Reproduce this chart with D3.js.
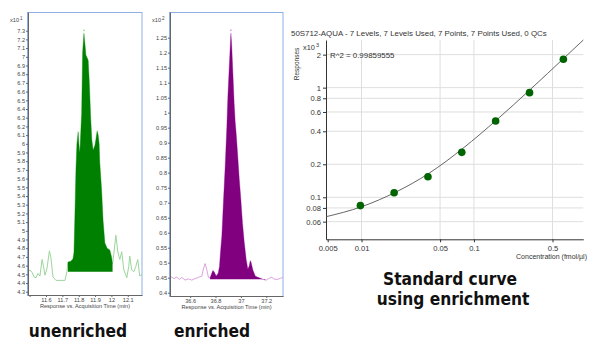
<!DOCTYPE html>
<html>
<head>
<meta charset="utf-8">
<script src="https://cdn.jsdelivr.net/npm/d3@7"></script>
<style>
body { margin: 0; background: #fff; }
svg { display: block; font-family: "Liberation Sans", Arial, sans-serif; }
.big { font-family: "Liberation Sans Narrow", "DejaVu Sans Condensed", sans-serif; font-weight: bold; font-stretch: condensed; fill: #111; }
</style>
</head>
<body>
<svg id="chart" width="589" height="341"></svg>
<script>
// unenriched chromatogram (x10^1), time in min
const unenrTime = [11.490, 11.502, 11.515, 11.527, 11.539, 11.551, 11.563, 11.576, 11.585, 11.594, 11.606, 11.621, 11.630, 11.643, 11.661, 11.685, 11.716, 11.728,
    11.734, 11.752, 11.765, 11.771, 11.777, 11.783, 11.789, 11.797, 11.801, 11.807, 11.818, 11.824, 11.832, 11.838, 11.844, 11.858, 11.865, 11.873, 11.880, 11.888,
    11.899, 11.905, 11.913, 11.919, 11.925, 11.929, 11.940, 11.949, 11.960, 11.974, 11.990, 12.001, 12.007,
    12.015, 12.027, 12.039, 12.051, 12.063, 12.076, 12.094, 12.106, 12.112, 12.124, 12.137, 12.149, 12.161, 12.173, 12.187];
const unenrResp = [4.53, 4.55, 4.52, 4.47, 4.46, 4.51, 4.48, 4.67, 4.59, 4.49, 4.57, 4.77, 4.69, 4.47, 4.43, 4.43, 4.43, 4.53,
    4.64, 4.65, 4.68, 4.75, 5.2, 5.7, 6.0, 6.14, 6.0, 5.90, 6.35, 7.05, 7.27, 7.15, 7.02, 6.96, 6.7, 6.31, 6.05, 5.93,
    5.98, 6.05, 6.15, 6.1, 6.0, 5.78, 5.47, 5.12, 4.86, 4.80, 4.78, 4.70, 4.62,
    4.74, 4.95, 4.76, 4.67, 4.76, 4.55, 4.46, 4.59, 4.71, 4.55, 4.53, 4.59, 4.67, 4.48, 4.50];
const unenrPeak = [18, 50];      // first / last index of the integrated peak
const unenrBase = 4.53;
const unenrYTicks = d3.range(43, 74).map(v => v / 10);
const unenrXTicks = [11.5, 11.6, 11.7, 11.8, 11.9, 12, 12.1];

// enriched chromatogram (x10^2)
const enrTime = [36.436, 36.455, 36.473, 36.494, 36.515, 36.534, 36.560, 36.586, 36.613, 36.639, 36.665, 36.692, 36.704, 36.718, 36.731, 36.744,
    36.757, 36.779, 36.789, 36.805, 36.821, 36.831, 36.840, 36.850, 36.862, 36.876, 36.889, 36.897, 36.908, 36.921, 36.927, 36.937, 36.947,
    36.955, 36.963, 36.976, 36.987, 36.998, 37.013, 37.026, 37.042, 37.055, 37.066, 37.074, 37.081, 37.095, 37.113, 37.129, 37.153, 37.192,
    37.200, 37.218, 37.245, 37.258, 37.285, 37.311, 37.332];
const enrResp = [0.451, 0.452, 0.447, 0.452, 0.444, 0.451, 0.442, 0.446, 0.442, 0.447, 0.451, 0.455, 0.479, 0.497, 0.477, 0.451,
    0.45, 0.474, 0.47, 0.456, 0.465, 0.487, 0.54, 0.59, 0.70, 0.82, 0.95, 1.05, 1.15, 1.265, 1.23, 1.13, 1.03,
    0.97, 0.93, 0.85, 0.78, 0.72, 0.63, 0.57, 0.51, 0.478, 0.49, 0.507, 0.50, 0.475, 0.456, 0.452, 0.448, 0.442,
    0.442, 0.447, 0.452, 0.446, 0.444, 0.448, 0.451];
const enrPeak = [16, 49];
const enrBase = 0.445;
const enrYTicks = d3.range(8, 26).map(v => v * 0.05);
const enrXTicks = [36.6, 36.8, 37, 37.2];

// standard curve (x10^3)
const calConc = [0.00977, 0.0195, 0.039, 0.078, 0.156, 0.3125, 0.625];
const calResp = [0.084, 0.110, 0.154, 0.257, 0.497, 0.900, 1.816];
const fitConc = [0.00483, 0.01, 0.02, 0.04, 0.08, 0.16, 0.32, 0.64, 0.94];
const fitResp = [0.0665, 0.082, 0.111, 0.166, 0.28, 0.51, 0.97, 1.88, 2.72];
const calXTicks = [0.005, 0.01, 0.05, 0.1, 0.5];
const calYTicks = [0.06, 0.08, 0.1, 0.2, 0.4, 0.6, 0.8, 1, 2];
const calTitle = '50S712-AQUA - 7 Levels, 7 Levels Used, 7 Points, 7 Points Used, 0 QCs';
const rSquared = 'R^2 = 0.99859555';

const svg = d3.select('#chart');

function bigLabel(g, x, y, txt) {
    g.append('text').attr('class', 'big')
        .attr('transform', `translate(${x},${y}) scale(0.93,1)`)
        .attr('text-anchor', 'middle').attr('font-size', 18.5).text(txt);
}

function chromPanel(o) {
    const x = d3.scaleLinear().domain(o.xDomain).range([o.left, o.right]);
    const y = d3.scaleLinear().domain(o.yDomain).range([o.bottom, o.top]);
    const g = svg.append('g');

    g.append('rect')
        .attr('x', o.left - 0.5).attr('y', o.top + 0.5)
        .attr('width', o.right - o.left + 0.5).attr('height', o.bottom - o.top)
        .attr('fill', 'none').attr('stroke', '#8cb0e6');

    const idx = d3.range(o.time.length);
    const line = d3.line().x(i => x(o.time[i])).y(i => y(o.resp[i]));
    g.append('path').datum(idx)
        .attr('d', line).attr('fill', 'none')
        .attr('stroke', o.light).attr('stroke-width', 1);

    const area = d3.area().x(i => x(o.time[i])).y0(y(o.base)).y1(i => y(o.resp[i]));
    g.append('path').datum(d3.range(o.peak[0], o.peak[1] + 1))
        .attr('d', area).attr('fill', o.dark);

    // apex marker
    const top = d3.maxIndex(o.resp);
    g.append('circle').attr('cx', x(o.time[top])).attr('cy', y(o.resp[top]) - 3)
        .attr('r', 0.9).attr('fill', o.light);

    const yAxis = g.append('g').attr('transform', `translate(${o.left},0)`)
        .call(d3.axisLeft(y).tickValues(o.yTicks).tickSize(2).tickSizeOuter(0).tickPadding(1)
            .tickFormat(d => String(+d.toFixed(2))));
    const xAxis = g.append('g').attr('transform', `translate(0,${o.bottom})`)
        .call(d3.axisBottom(x).tickValues(o.xTicks).tickSize(2).tickSizeOuter(0).tickPadding(1)
            .tickFormat(d => d === o.xTicks[0] && o.skipFirst ? '' : String(+d.toFixed(1))));
    [yAxis, xAxis].forEach(a => {
        a.select('.domain').attr('stroke', '#666');
        a.selectAll('line').attr('stroke', '#666');
        a.selectAll('text').attr('font-size', 5.6).attr('fill', '#444').attr('font-family', null);
    });

    const mult = g.append('text').attr('x', o.left - 18).attr('y', 22)
        .attr('font-size', 5.6).attr('fill', '#444').text('x10');
    mult.append('tspan').attr('dy', -2.5).attr('dx', 1).attr('font-size', 4.5).text(o.exp);

    g.append('text').attr('x', (o.left + o.right) / 2).attr('y', o.bottom + 12.5)
        .attr('text-anchor', 'middle').attr('font-size', 5.6).attr('fill', '#444')
        .text('Response vs. Acquisition Time (min)');

    bigLabel(g, o.labelX, 337, o.label);
}

chromPanel({
    left: 28, right: 142, top: 12, bottom: 295,
    xDomain: [11.49, 12.187], yDomain: [4.262, 7.515],
    time: unenrTime, resp: unenrResp, peak: unenrPeak, base: unenrBase,
    yTicks: unenrYTicks, xTicks: unenrXTicks, skipFirst: true,
    light: '#9bd69b', dark: '#008000', exp: '1', label: 'unenriched', labelX: 78
});

chromPanel({
    left: 170, right: 283, top: 12, bottom: 296,
    xDomain: [36.441, 37.332], yDomain: [0.389, 1.3355],
    time: enrTime, resp: enrResp, peak: enrPeak, base: enrBase,
    yTicks: enrYTicks, xTicks: enrXTicks, skipFirst: false,
    light: '#dda3dd', dark: '#800080', exp: '2', label: 'enriched', labelX: 212
});

// ---- standard curve ----
const cl = 326, cr = 583.3, ct = 40, cb = 239.3;
const xC = d3.scaleLog().domain([0.00483, 0.94]).range([cl, cr]);
const yC = d3.scaleLog().domain([0.0414, 2.72]).range([cb, ct]);
const gc = svg.append('g');

gc.append('g').selectAll('line').data(calXTicks.slice(1)).join('line')
    .attr('x1', d => xC(d)).attr('x2', d => xC(d)).attr('y1', ct).attr('y2', cb)
    .attr('stroke', '#dedede');
gc.append('g').selectAll('line').data(calYTicks).join('line')
    .attr('x1', cl).attr('x2', cr).attr('y1', d => yC(d)).attr('y2', d => yC(d))
    .attr('stroke', '#dedede');

const cAxY = gc.append('g').attr('transform', `translate(${cl},0)`)
    .call(d3.axisLeft(yC).tickValues(calYTicks).tickSize(3).tickSizeOuter(0).tickPadding(2).tickFormat(d => String(d)));
const cAxX = gc.append('g').attr('transform', `translate(0,${cb})`)
    .call(d3.axisBottom(xC).tickValues(calXTicks).tickSize(3).tickSizeOuter(0).tickPadding(3).tickFormat(d => String(d)));
[cAxY, cAxX].forEach(a => {
    a.select('.domain').attr('stroke', '#333');
    a.selectAll('line').attr('stroke', '#333');
    a.selectAll('text').attr('font-size', 7.6).attr('fill', '#333').attr('font-family', null);
});

const fi = d3.range(fitConc.length);
gc.append('path').datum(fi)
    .attr('d', d3.line().x(i => xC(fitConc[i])).y(i => yC(fitResp[i])).curve(d3.curveMonotoneX))
    .attr('fill', 'none').attr('stroke', '#555').attr('stroke-width', 0.9);

gc.append('g').selectAll('circle').data(d3.range(calConc.length)).join('circle')
    .attr('cx', i => xC(calConc[i])).attr('cy', i => yC(calResp[i]))
    .attr('r', 3.8).attr('fill', '#006400');

gc.append('text').attr('x', 291).attr('y', 36).attr('font-size', 7.9).attr('fill', '#333').text(calTitle);
gc.append('text').attr('x', 330).attr('y', 57.5).attr('font-size', 7.9).attr('fill', '#333').text(rSquared);

const cm = gc.append('text').attr('x', 303).attr('y', 50).attr('font-size', 7.4).attr('fill', '#333').text('x10');
cm.append('tspan').attr('dy', -3).attr('dx', 1).attr('font-size', 5.5).text('3');

gc.append('text').attr('transform', 'translate(299,64) rotate(-90)').attr('text-anchor', 'middle')
    .attr('font-size', 6.5).attr('fill', '#333').text('Responses');

gc.append('text').attr('x', 587).attr('y', 259).attr('text-anchor', 'end')
    .attr('font-size', 7).attr('fill', '#333').text('Concentration (fmol/µl)');

bigLabel(gc, 450, 285, 'Standard curve');
bigLabel(gc, 453, 305, 'using enrichment');
</script>
</body>
</html>
